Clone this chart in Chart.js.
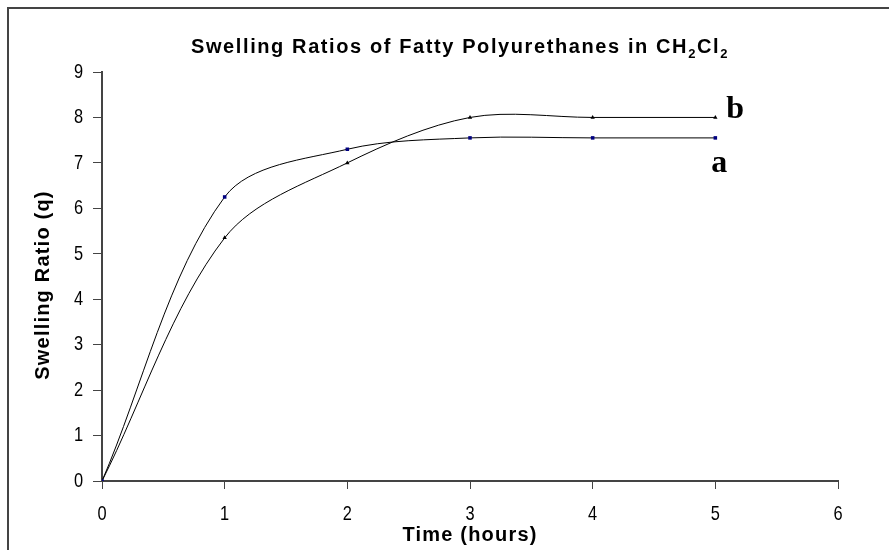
<!DOCTYPE html>
<html>
<head>
<meta charset="utf-8">
<script src="https://cdn.jsdelivr.net/npm/chart.js@4/dist/chart.umd.min.js"></script>
<style>
  html,body{margin:0;padding:0;background:#fff;}
  #wrap{width:889px;height:550px;position:relative;}
</style>
</head>
<body>
<div id="wrap"><canvas id="c" width="889" height="550"></canvas></div>
<script>
// data
const hours = [0, 1, 2, 3, 4, 5];
const seriesA = [0, 6.25, 7.3, 7.55, 7.55, 7.55];   // blue squares
const seriesB = [0, 5.35, 7.0, 8.0, 8.0, 8.0];      // black triangles
const xTicks = [0, 1, 2, 3, 4, 5, 6];
const yTicks = [0, 1, 2, 3, 4, 5, 6, 7, 8, 9];
const seriesLabels = ['a', 'b'];

const toPts = v => hours.map((h,i)=>({x:h, y:v[i]}));
const FONT = '"Liberation Sans", Arial';

// narrow tall digits like the original bitmap font
function narrowText(ctx, txt, x, y, align){
  ctx.save();
  ctx.font = '21px ' + FONT;
  ctx.textBaseline = 'middle';
  ctx.textAlign = align;
  ctx.translate(x, y); ctx.scale(0.78, 1);
  ctx.fillText(txt, 0, 0);
  ctx.restore();
}

// frame, title, axis titles, tick labels and the a/b tags
const decor = {
  id:'decor',
  afterDraw(chart){
    const ctx = chart.ctx, xs = chart.scales.x, ys = chart.scales.y;
    ctx.save();
    ctx.strokeStyle = '#444'; ctx.lineWidth = 2;
    ctx.beginPath(); ctx.moveTo(8,550); ctx.lineTo(8,8); ctx.lineTo(889,8); ctx.stroke();

    ctx.fillStyle = '#000';
    xTicks.forEach(v => narrowText(ctx, String(v), xs.getPixelForValue(v), 514, 'center'));
    yTicks.forEach(v => narrowText(ctx, String(v), 83, ys.getPixelForValue(v), 'right'));

    // title with subscripts
    const big = 'bold 20px ' + FONT, small = 'bold 13px ' + FONT;
    ctx.letterSpacing = '1.6px';
    const parts = [['Swelling Ratios of Fatty Polyurethanes in CH', big, 0], ['2', small, 5], ['Cl', big, 0], ['2', small, 5]];
    let total = 0;
    parts.forEach(p => { ctx.font = p[1]; total += ctx.measureText(p[0]).width; });
    let x = 460 - total/2;
    ctx.textAlign = 'left'; ctx.textBaseline = 'alphabetic';
    parts.forEach(p => { ctx.font = p[1]; ctx.fillText(p[0], x, 53 + p[2]); x += ctx.measureText(p[0]).width; });

    ctx.font = 'bold 20px ' + FONT;
    ctx.letterSpacing = '1.2px';
    ctx.textAlign = 'center'; ctx.textBaseline = 'middle';
    ctx.fillText('Time (hours)', 470, 535);
    ctx.save(); ctx.translate(43, 285); ctx.rotate(-Math.PI/2);
    ctx.fillText('Swelling Ratio (q)', 0, 0); ctx.restore();
    ctx.letterSpacing = '0px';

    ctx.font = 'bold 32px "Liberation Serif", "Times New Roman", serif';
    ctx.textAlign = 'left'; ctx.textBaseline = 'alphabetic';
    const last = hours.length-1;
    ctx.fillText(seriesLabels[1], xs.getPixelForValue(hours[last]) + 11, ys.getPixelForValue(seriesB[last]) + 1);
    ctx.fillText(seriesLabels[0], xs.getPixelForValue(hours[last]) - 4, ys.getPixelForValue(seriesA[last]) + 34);
    ctx.restore();
  }
};

new Chart(document.getElementById('c'), {
  type:'line',
  data:{ datasets:[
    { label:'a', data:toPts(seriesA), borderColor:'#000', borderWidth:1, tension:0.33,
      pointStyle:'rect', pointRadius:2.5, pointBackgroundColor:'#000080', pointBorderColor:'#000080', pointBorderWidth:0 },
    { label:'b', data:toPts(seriesB), borderColor:'#000', borderWidth:1, tension:0.33,
      pointStyle:'triangle', pointRadius:2.5, pointBackgroundColor:'#000', pointBorderColor:'#000', pointBorderWidth:0 }
  ]},
  options:{
    responsive:false, animation:false,
    layout:{ padding:{ left:0, right:51, top:72, bottom:0 } },
    plugins:{ legend:{display:false}, tooltip:{enabled:false}, title:{display:false} },
    scales:{
      x:{ type:'linear', min:0, max:6,
        afterBuildTicks:s=>{ s.ticks = xTicks.map(v=>({value:v})); },
        afterFit:s=>{ s.height = 69; },
        grid:{ display:true, drawOnChartArea:false, drawTicks:true, tickLength:8, color:'#444', lineWidth:1 },
        border:{ display:true, color:'#444', width:2 },
        ticks:{ display:false }
      },
      y:{ type:'linear', min:0, max:9,
        afterBuildTicks:s=>{ s.ticks = yTicks.map(v=>({value:v})); },
        afterFit:s=>{ s.width = 102; },
        grid:{ display:true, drawOnChartArea:false, drawTicks:true, tickLength:9, color:'#444', lineWidth:1 },
        border:{ display:true, color:'#444', width:2 },
        ticks:{ display:false }
      }
    }
  },
  plugins:[decor]
});
</script>
</body>
</html>
